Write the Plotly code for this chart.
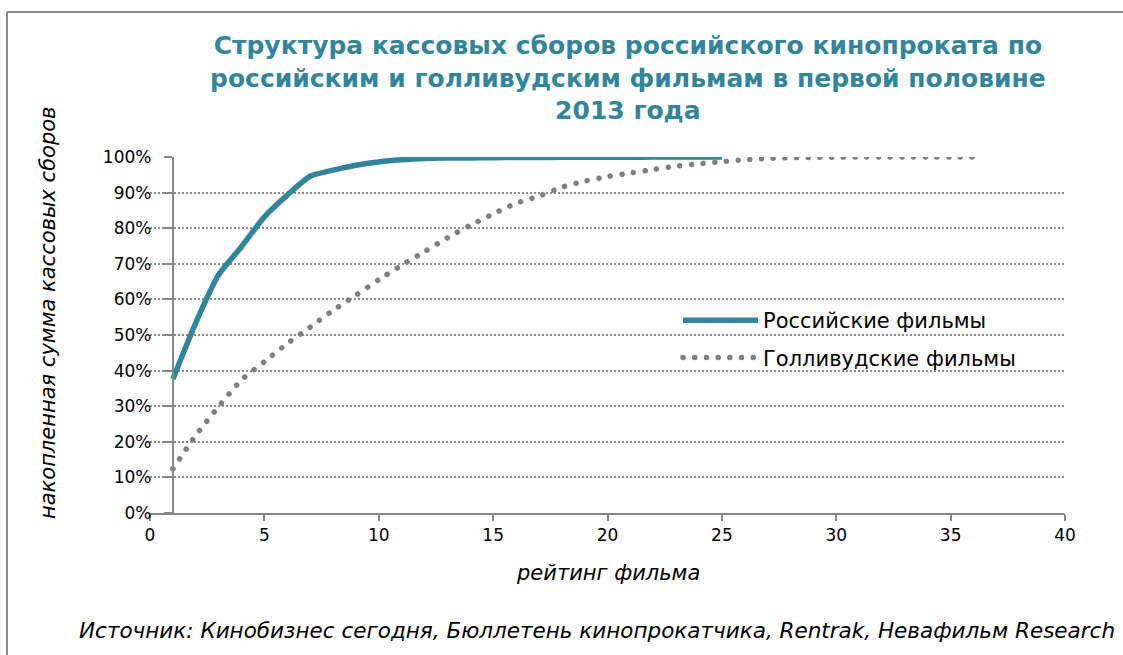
import plotly.graph_objects as go

# ---- data ----
russian_rank = list(range(1, 26))
russian_share = [37.6, 53.4, 66.9, 74.8, 83.2, 89.3, 94.6, 96.3, 97.7, 98.6,
                 99.2, 99.6, 99.7, 99.75, 99.8, 99.85, 99.88, 99.9, 99.92, 99.94,
                 99.96, 99.97, 99.98, 99.99, 100.0]
hollywood_rank = list(range(1, 37))
hollywood_share = [12.4, 21.8, 29.9, 37.4, 42.5, 47.6, 52.2, 56.9, 61.2, 65.5,
                   69.6, 73.4, 77.3, 80.8, 84.0, 87.0, 89.0, 91.5, 93.2, 94.5,
                   95.5, 96.5, 97.4, 98.1, 98.7, 99.2, 99.6, 99.8, 99.9, 99.95,
                   100.0, 100.0, 100.0, 100.0, 100.0, 100.0]
series_names = ["Российские фильмы", "Голливудские фильмы"]
x_ticks = [0, 5, 10, 15, 20, 25, 30, 35, 40]
y_ticks = [0, 10, 20, 30, 40, 50, 60, 70, 80, 90, 100]
y_ticklabels = [f"{v}%" for v in y_ticks]

title_text = ("Структура кассовых сборов российского кинопроката по<br>"
              "российским и голливудским фильмам в первой половине<br>2013 года")
x_title = "рейтинг фильма"
y_title = "накопленная сумма кассовых сборов"
source_text = "Источник: Кинобизнес сегодня, Бюллетень кинопрокатчика, Rentrak, Невафильм Research"

TEAL = "#31859C"
GREY = "#808080"
FONT = "DejaVu Sans"

W, H = 1123, 655
ML, MR, MT, MB = 150, 58, 157, 142
pw = W - ML - MR
ph = H - MT - MB

fig = go.Figure()
fig.add_trace(go.Scatter(x=russian_rank, y=russian_share, mode="lines",
                         name=series_names[0], legendgroup="ru",
                         line=dict(color=TEAL, width=5.5, shape="spline", smoothing=0.6)))
fig.add_trace(go.Scatter(x=hollywood_rank, y=hollywood_share, mode="lines",
                         name=series_names[1], legendgroup="hw",
                         line=dict(color=GREY, width=5.5, dash="0.1px,11.6px",
                                   shape="spline", smoothing=0.6)))

xmin, xmax = 0, 40
ycross = 1  # vertical axis crosses at rank 1
ypos = (ycross - xmin) / (xmax - xmin)

def px2paper_x(px):
    return (px - ML) / pw

def px2paper_y(py):
    return (H - MB - py) / ph

fig.update_layout(
    width=W, height=H,
    margin=dict(l=ML, r=MR, t=MT, b=MB, pad=0),
    paper_bgcolor="white", plot_bgcolor="white",
    font=dict(family=FONT, color="#000000", size=17),
    showlegend=True,
    legend=dict(x=px2paper_x(678), y=px2paper_y(300), xanchor="left", yanchor="top",
                bgcolor="rgba(0,0,0,0)", font=dict(size=21, family=FONT),
                itemwidth=75, tracegroupgap=7),
    xaxis=dict(range=[xmin, xmax], tickvals=x_ticks, showgrid=False, zeroline=False,
               showline=True, linecolor="#868686", linewidth=2,
               ticks="outside", ticklen=6, tickcolor="#868686", tickwidth=1.5,
               tickfont=dict(size=17, family=FONT), fixedrange=True),
    yaxis=dict(range=[0, 100], tickvals=y_ticks, ticktext=y_ticklabels,
               anchor="free", position=ypos,
               showgrid=True, gridcolor="#8C8C8C", gridwidth=1.5, griddash="2px,2px",
               zeroline=False, showline=True, linecolor="#868686", linewidth=2,
               ticks="outside", ticklen=8, tickcolor="#868686", tickwidth=1.5,
               ticklabelstandoff=9,
               tickfont=dict(size=17, family=FONT), fixedrange=True),
)

annotations = [
    dict(text=title_text, x=px2paper_x(628), y=px2paper_y(29), xref="paper", yref="paper",
         xanchor="center", yanchor="top", showarrow=False, align="center",
         font=dict(size=25, family=FONT, color=TEAL, weight="bold")),
    dict(text=f"<i>{x_title}</i>", x=px2paper_x(608), y=px2paper_y(573), xref="paper", yref="paper",
         xanchor="center", yanchor="middle", showarrow=False,
         font=dict(size=21, family=FONT)),
    dict(text=f"<i>{y_title}</i>", x=px2paper_x(48), y=px2paper_y(313), xref="paper", yref="paper",
         xanchor="center", yanchor="middle", showarrow=False, textangle=-90,
         font=dict(size=21, family=FONT)),
    dict(text=f"<i>{source_text}</i>", x=px2paper_x(1117), y=px2paper_y(630), xref="paper", yref="paper",
         xanchor="right", yanchor="middle", showarrow=False,
         font=dict(size=21.5, family=FONT)),
]
fig.update_layout(annotations=annotations)

# chart border (left and top edges visible)
fig.add_shape(type="line", xref="paper", yref="paper",
              x0=px2paper_x(7), x1=px2paper_x(7), y0=px2paper_y(12), y1=px2paper_y(660),
              line=dict(color="#8C8C8C", width=2))
fig.add_shape(type="line", xref="paper", yref="paper",
              x0=px2paper_x(7), x1=px2paper_x(1130), y0=px2paper_y(12), y1=px2paper_y(12),
              line=dict(color="#8C8C8C", width=2))

post = """
document.body.style.margin='0px';
document.body.style.overflow='hidden';
var gd = document.getElementsByClassName('plotly-graph-div')[0];
function roundDots(){
  gd.querySelectorAll('.scatterlayer .trace:nth-of-type(2) path.js-line').forEach(function(p){p.style.strokeLinecap='round';});
  gd.querySelectorAll('.legend .traces').forEach(function(t, i){
    if(i===1){t.querySelectorAll('path.js-line').forEach(function(p){p.style.strokeLinecap='round';});}
  });
}
roundDots();
"""
fig.write_html("out.html", config={"displayModeBar": False}, post_script=post)
